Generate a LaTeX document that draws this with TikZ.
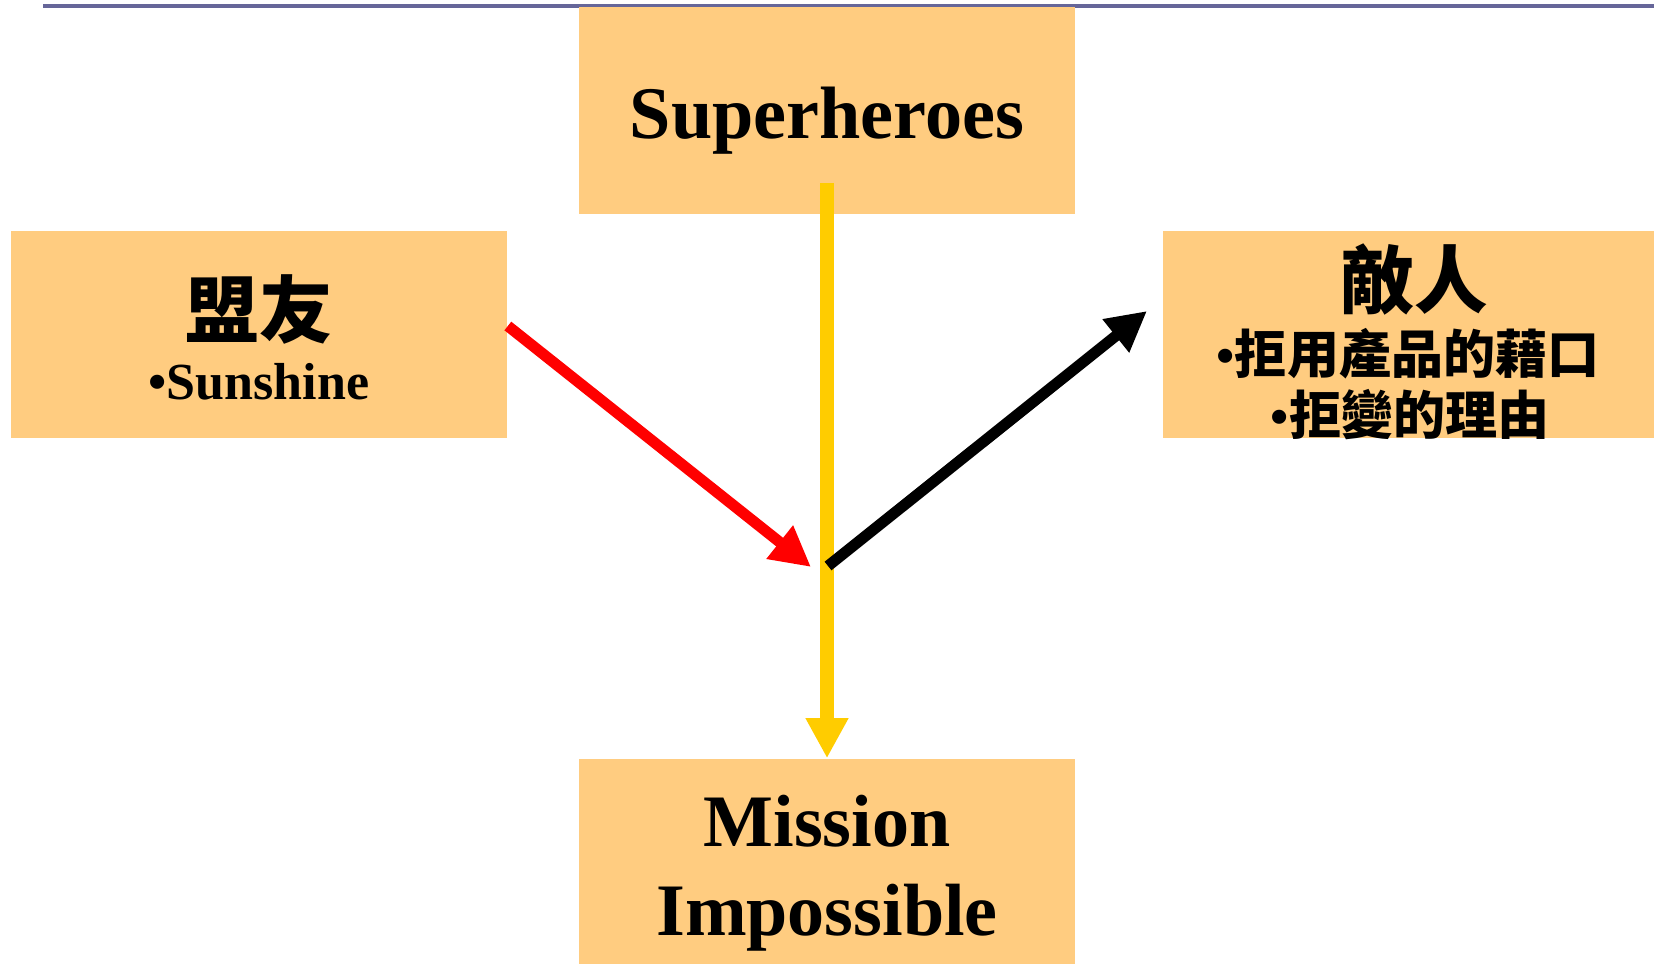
\documentclass[tikz,border=0pt]{standalone}
\usepackage{fontspec}
\setmainfont{Liberation Serif}
\newfontfamily\cjk{Noto Sans CJK TC}
\usetikzlibrary{arrows.meta}
\definecolor{cardfill}{HTML}{FFCC80}
\definecolor{rulecolor}{HTML}{666699}
\definecolor{gold}{HTML}{FFCC00}
\newcommand\heroesize{\fontsize{21.1}{25}\selectfont}
\newcommand\missionsize{\fontsize{21.05}{25}\selectfont}
\newcommand\cardtitlesize{\fontsize{20.9}{25}\selectfont}
\newcommand\cardlinesize{\fontsize{14.8}{18}\selectfont}
\tikzset{
  card/.style={fill=cardfill, inner sep=0pt, minimum width=4.96cm, minimum height=2.07cm},
  txt/.style={anchor=base, inner sep=0pt, font=\bfseries #1},
  txt/.default={},
  flow/.style={line width=0.11cm, -{Triangle[length=0.4cm, width=0.4cm]}},
}

\begin{document}
\begin{tikzpicture}[x=0.01cm, y=-0.01cm]
  \useasboundingbox (0, 0) rectangle (1654, 964);
  % top rule
  \draw[rulecolor, line width=0.035cm] (43, 6) -- (1654, 6);
  % cards
  \node[card] (heroes) at (827, 110.5) {};
  \node[card] (ally) at (259, 334.5) {};
  \node[card] (enemy) at (1411, 334.5) {};
  \node[card] (mission) at (827, 862.5) {};
  % texts
  \node[txt=\heroesize] (heroes-t) at (827, 139) {Superheroes};
  \node[txt=\cardtitlesize\cjk] (ally-t) at (259, 338) {盟友};
  \node[txt=\cardlinesize] (ally-l1) at (259, 400) {•Sunshine};
  \node[txt=\cardtitlesize\cjk] (enemy-t) at (1414, 308) {敵人};
  \node[txt=\cardlinesize] (enemy-l1) at (1408, 374) {•{\cjk 拒用產品的藉口}};
  \node[txt=\cardlinesize] (enemy-l2) at (1410, 435) {•{\cjk 拒變的理由}};
  \node[txt=\missionsize] (mission-l1) at (827, 846) {Mission};
  \node[txt=\missionsize] (mission-l2) at (827, 935) {Impossible};
  % connectors
  \coordinate (gold-start) at (827, 183);
  \coordinate (red-end) at (811, 567);
  \coordinate (black-start) at (828, 566);
  \coordinate (black-end) at (1147, 311);
  \draw[flow, gold, line width=0.14cm] (gold-start) -- (mission.north);
  \draw[flow, red] (ally.east |- 0, 326) -- (red-end);
  \draw[flow, black] (black-start) -- (black-end);
\end{tikzpicture}
\end{document}
